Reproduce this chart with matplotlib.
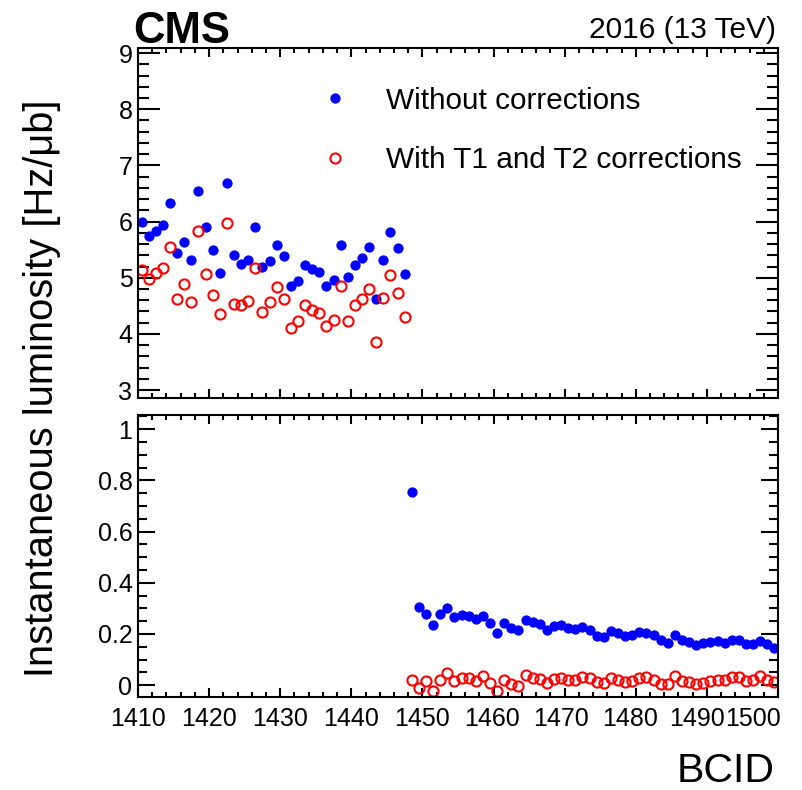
import numpy as np
import matplotlib
matplotlib.use("Agg")
import matplotlib.pyplot as plt
from matplotlib.ticker import MultipleLocator
from matplotlib.transforms import ScaledTranslation

plt.rcParams['font.family'] = ['Liberation Sans', 'DejaVu Sans']

# Bunch crossing IDs (one bin per BCID)
bcid = np.arange(1410, 1500)

# Instantaneous luminosity per BCID [Hz/ub]
lumi_raw = [
    6.00, 5.75, 5.84, 5.94, 6.33, 5.44, 5.64, 5.32, 6.55, 5.91,
    5.50, 5.09, 6.68, 5.41, 5.25, 5.32, 5.91, 5.19, 5.29, 5.58,
    5.38, 4.86, 4.94, 5.23, 5.16, 5.11, 4.86, 4.96, 5.58, 5.01,
    5.22, 5.36, 5.54, 4.62, 5.32, 5.81, 5.53, 5.07,
    0.755, 0.306, 0.277, 0.237, 0.277, 0.300, 0.267, 0.273, 0.271, 0.258,
    0.270, 0.241, 0.204, 0.243, 0.225, 0.215,
    0.254, 0.247, 0.240, 0.215, 0.230, 0.234, 0.225, 0.221, 0.228, 0.217,
    0.191, 0.189, 0.212, 0.202, 0.191, 0.195, 0.208, 0.202,
    0.195, 0.176, 0.163, 0.195, 0.176, 0.169, 0.156, 0.163, 0.169, 0.172,
    0.163, 0.178, 0.176, 0.159, 0.159, 0.173, 0.159, 0.147,
]
lumi_corr = [
    5.14, 4.98, 5.08, 5.17, 5.54, 4.62, 4.89, 4.56, 5.83, 5.06,
    4.70, 4.36, 5.97, 4.54, 4.51, 4.58, 5.17, 4.39, 4.56, 4.84,
    4.62, 4.11, 4.23, 4.51, 4.42, 4.38, 4.15, 4.25, 4.86, 4.23,
    4.51, 4.63, 4.80, 3.85, 4.64, 5.05, 4.73, 4.31,
    0.022, -0.009, 0.017, -0.022, 0.022, 0.048, 0.017, 0.030, 0.030, 0.017,
    0.036, 0.009, -0.022, 0.020, 0.003, -0.004,
    0.039, 0.030, 0.026, 0.009, 0.026, 0.028, 0.022, 0.022, 0.033, 0.028,
    0.013, 0.009, 0.030, 0.022, 0.013, 0.017, 0.030, 0.033,
    0.022, 0.006, 0.004, 0.035, 0.017, 0.013, 0.004, 0.009, 0.017, 0.022,
    0.022, 0.033, 0.033, 0.017, 0.022, 0.035, 0.020, 0.013,
]

label_raw = "Without corrections"
label_corr = "With T1 and T2 corrections"

W, H = 803, 790
fig = plt.figure(figsize=(W / 100, H / 100), dpi=100)

left, right = 138 / W, 778 / W
ax_top = fig.add_axes([left, 1 - 398 / H, right - left, (398 - 48) / H])
ax_bot = fig.add_axes([left, 1 - 697 / H, right - left, (697 - 415) / H])

xc = bcid + 0.5  # bin centres

for ax in (ax_top, ax_bot):
    ax.plot(xc, lumi_raw, 'o', color='#0000ff', ms=7.4, mew=0,
            label=label_raw)
    ax.plot(xc, lumi_corr, 'o', mfc='none', mec='#ff0000', ms=7.3,
            mew=1.5, label=label_corr)
    ax.set_xlim(1410, 1500)
    ax.xaxis.set_major_locator(MultipleLocator(10))
    ax.xaxis.set_minor_locator(MultipleLocator(2))
    for s in ax.spines.values():
        s.set_linewidth(1.5)
    ax.tick_params(axis='both', which='both', direction='in',
                   top=True, right=True, width=1.5, labelsize=18)
    ax.tick_params(axis='x', which='major', length=6.5, pad=7)
    ax.tick_params(axis='x', which='minor', length=3.3)

ax_top.set_ylim(2.86, 9.09)
ax_top.yaxis.set_major_locator(MultipleLocator(1))
ax_top.yaxis.set_minor_locator(MultipleLocator(0.2))
ax_top.tick_params(axis='y', which='major', length=15.5, pad=4)
ax_top.tick_params(axis='y', which='minor', length=8)
ax_top.tick_params(axis='x', labelbottom=False)

ax_bot.set_ylim(-0.046, 1.055)
ax_bot.yaxis.set_major_locator(MultipleLocator(0.2))
ax_bot.yaxis.set_minor_locator(MultipleLocator(0.05))
ax_bot.yaxis.set_major_formatter(
    matplotlib.ticker.FuncFormatter(lambda v, p: f"{v:g}"))
ax_bot.tick_params(axis='y', which='major', length=12.5, pad=4)
ax_bot.tick_params(axis='y', which='minor', length=6.5)

# nudge the right-most x labels so the last one stays inside the frame
label_shift_px = {1460: -2, 1470: -4, 1480: -6, 1490: -10, 1500: 3}
fig.canvas.draw()
for tick in ax_bot.xaxis.get_major_ticks():
    loc = int(round(tick.get_loc()))
    lab = tick.label1
    if loc == 1500:
        lab.set_horizontalalignment('right')
    if loc in label_shift_px:
        lab.set_transform(lab.get_transform() + ScaledTranslation(
            label_shift_px[loc] / 100, 0, fig.dpi_scale_trans))

ax_top.legend(loc='upper left', bbox_to_anchor=(0.261, 0.889),
              frameon=False, fontsize=21.4, handlelength=2.0,
              handletextpad=0.72, labelspacing=1.05, borderpad=0,
              borderaxespad=0, numpoints=1)

fig.text(133 / W, 1 - 43 / H, "CMS", fontsize=31.5, fontweight='bold',
         ha='left', va='baseline')
fig.text(776 / W, 1 - 38 / H, "2016 (13 TeV)", fontsize=21.5,
         ha='right', va='baseline')
fig.text(42 / W, 1 - 388 / H, "Instantaneous luminosity [Hz/\u03bcb]",
         fontsize=28.7, rotation=90, ha='center', va='center')
fig.text(775 / W, 1 - 782 / H, "BCID", fontsize=29.5, ha='right',
         va='baseline')

fig.savefig("out.png", dpi=100)
